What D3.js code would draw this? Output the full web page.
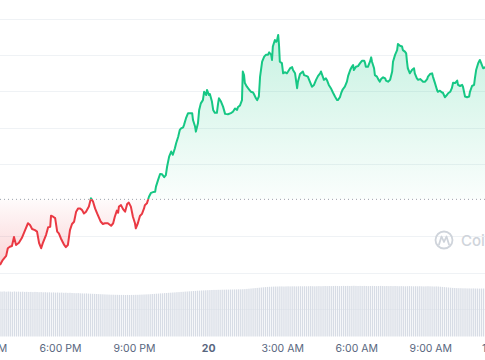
<!DOCTYPE html>
<html>
<head>
<meta charset="utf-8">
<script src="https://cdn.jsdelivr.net/npm/d3@7"></script>
<style>
  html, body { margin: 0; padding: 0; background: #fff; }
  svg { display: block; }
</style>
</head>
<body>
<svg id="chart" width="485" height="360"></svg>
<script>
// ---- data ----
// minutes after 2024-03-19 15:34:15
const times = [
  0,7,15,19,24,29,34,39,46,53,
  61,68,73,78,85,90,95,100,104,112,
  117,122,124,129,134,139,143,148,156,160,
  165,170,175,180,185,190,194,199,204,209,
  216,221,226,231,236,241,245,250,255,262,
  270,275,279,284,287,289,294,299,304,309,
  313,318,323,328,330,335,340,345,350,352,
  357,362,367,372,377,379,384,389,394,399,
  403,406,411,416,418,420,425,428,433,437,
  440,445,447,452,457,462,467,469,474,476,
  481,484,488,493,496,501,503,508,510,515,
  518,522,527,530,532,537,542,547,554,561,
  566,571,576,578,583,588,590,593,595,600,
  605,610,615,617,622,625,629,632,637,642,
  646,651,654,659,661,663,668,671,673,676,
  678,680,685,688,693,697,700,705,710,712,
  717,722,724,729,736,739,744,748,753,758,
  763,768,773,778,780,785,787,792,795,799,
  804,809,814,819,821,826,829,833,838,843,
  846,851,855,858,860,865,870,875,880,885,
  887,889,894,899,902,904,909,911,916,919,
  923,926,931,936,938,943,948,953,955,960,
  965,967,972,977,979,984,987,989,991,996,
  1001,1006,1008,1013,1016,1021,1025,1028,1033,1038,
  1040,1045,1050,1052,1057,1062,1064,1069,1074,1076,
  1081,1086,1089,1094,1098,1101,1106,1111,1113,1118,
  1123,1125,1130,1135,1140,1142,1147,1152,1154,1157,
  1162,1166,1169,1174,1179
];
const prices = [
  96.21,96.35,96.46,96.67,96.71,96.73,96.98,96.76,96.82,96.95,
  97.17,97.36,97.31,97.20,97.17,97.13,96.81,96.67,96.81,97.04,
  97.25,97.26,97.57,97.54,97.50,97.13,97.08,96.94,96.76,96.70,
  96.76,97.17,97.34,97.40,97.68,97.77,97.77,97.73,97.63,97.68,
  97.82,98.05,97.96,97.77,97.63,97.50,97.40,97.34,97.36,97.36,
  97.29,97.36,97.54,97.71,97.65,97.82,97.86,97.75,97.68,97.89,
  97.93,97.82,97.54,97.36,97.22,97.36,97.56,97.62,97.77,97.86,
  97.91,98.09,98.20,98.22,98.23,98.37,98.55,98.72,98.71,98.63,
  98.69,98.92,99.20,99.34,99.29,99.25,99.43,99.57,99.75,99.94,
  99.98,100.01,100.07,100.26,100.40,100.40,100.40,100.21,100.03,99.89,
  100.12,100.49,100.67,100.76,100.99,100.90,101.04,100.90,100.93,100.72,
  100.49,100.41,100.41,100.67,100.81,100.72,100.58,100.38,100.37,100.40,
  100.44,100.53,100.49,100.56,100.61,100.76,101.55,101.45,101.23,101.13,
  101.06,100.99,100.97,100.93,100.81,100.76,100.86,101.41,101.82,101.96,
  102.01,102.01,102.08,102.01,101.87,102.24,102.42,102.37,102.40,102.56,
  102.28,101.82,101.78,101.50,101.53,101.50,101.55,101.64,101.67,101.59,
  101.50,101.09,101.27,101.48,101.55,101.45,101.43,101.41,101.27,101.13,
  101.18,101.32,101.43,101.50,101.55,101.39,101.32,101.36,101.30,101.18,
  101.09,100.97,100.86,100.76,100.76,100.84,100.95,101.06,101.13,101.27,
  101.43,101.59,101.68,101.73,101.59,101.68,101.70,101.78,101.85,101.85,
  101.79,101.68,101.68,101.82,101.94,101.82,101.64,101.45,101.41,101.34,
  101.27,101.34,101.39,101.36,101.30,101.27,101.32,101.55,101.82,102.01,
  102.14,102.31,102.26,102.24,102.14,102.10,102.05,101.82,101.64,101.50,
  101.59,101.64,101.50,101.36,101.32,101.34,101.30,101.27,101.27,101.34,
  101.41,101.48,101.50,101.41,101.23,101.04,100.99,101.02,100.97,100.97,
  100.84,100.90,100.95,100.99,101.09,101.24,101.23,101.30,101.18,101.15,
  101.18,101.13,100.86,100.84,100.86,100.99,101.15,101.18,101.36,101.59,
  101.78,101.87,101.79,101.64,101.67
];
const referencePrice = 98.02;          // dotted baseline (price 24h earlier)
const priceTicks = [95, 96, 97, 99, 100, 101, 102, 103];
// volume, one bar every 5 minutes from the start
const volumes = [
  450,449,451,448,450,449,447,450,448,449,447,448,
  446,447,445,446,444,446,445,443,444,442,443,441,
  442,440,441,439,440,438,439,437,438,436,437,435,
  434,433,434,432,431,430,431,429,428,427,426,425,
  424,423,422,421,420,419,418,418,417,417,416,416,
  416,415,416,415,416,416,417,417,418,419,420,421,
  422,423,425,426,428,429,431,432,434,435,437,438,
  440,441,443,444,446,447,449,450,452,453,455,456,
  458,459,460,461,462,463,464,465,466,466,467,467,
  468,468,469,469,470,470,471,471,472,472,473,474,
  476,478,480,482,484,486,488,490,492,494,496,497,
  498,499,500,500,501,501,500,501,502,501,502,502,
  501,502,503,502,503,502,503,504,503,502,503,504,
  503,504,505,504,505,504,505,506,505,504,505,506,
  505,506,505,506,507,506,505,506,505,506,505,504,
  505,506,505,504,505,506,505,504,505,504,505,504,
  505,504,503,504,503,502,503,504,503,502,503,502,
  503,502,501,502,503,502,501,500,501,500,498,496,
  494,492,490,488,486,485,484,483,483,482,482,481,
  481,480,481,480,480,479,480,480
];
const volumeStepMinutes = 5;
const startTime = new Date(2024, 2, 19, 15, 34, 15);
const spanMinutes = 1178.55;
const tickTimes = [
  new Date(2024, 2, 19, 15), new Date(2024, 2, 19, 18), new Date(2024, 2, 19, 21),
  new Date(2024, 2, 20, 0), new Date(2024, 2, 20, 3), new Date(2024, 2, 20, 6),
  new Date(2024, 2, 20, 9), new Date(2024, 2, 20, 12)
];

// ---- drawing ----
const W = 485, H = 360;
const svg = d3.select("#chart");
const toDate = m => new Date(startTime.getTime() + m * 60000);

const x = d3.scaleTime()
  .domain([startTime, toDate(spanMinutes)])
  .range([0, W]);
const y = d3.scaleLinear().domain([96, 103]).range([272.5, 19]);
const yv = d3.scaleLinear().domain([0, 500]).range([336.5, 286.5]);

const data = times.map((t, i) => ({ date: toDate(t), price: prices[i] }));
const baseY = y(referencePrice);

const defs = svg.append("defs");
const gGreen = defs.append("linearGradient").attr("id", "gGreen")
  .attr("gradientUnits", "userSpaceOnUse").attr("x1", 0).attr("x2", 0)
  .attr("y1", y(102.6)).attr("y2", baseY);
gGreen.append("stop").attr("offset", 0).attr("stop-color", "#16c784").attr("stop-opacity", 0.24);
gGreen.append("stop").attr("offset", 1).attr("stop-color", "#16c784").attr("stop-opacity", 0.02);
const gRed = defs.append("linearGradient").attr("id", "gRed")
  .attr("gradientUnits", "userSpaceOnUse").attr("x1", 0).attr("x2", 0)
  .attr("y1", baseY).attr("y2", y(96.2));
gRed.append("stop").attr("offset", 0).attr("stop-color", "#ea3943").attr("stop-opacity", 0.02);
gRed.append("stop").attr("offset", 1).attr("stop-color", "#ea3943").attr("stop-opacity", 0.22);

defs.append("clipPath").attr("id", "above").append("rect")
  .attr("x", -5).attr("y", 0).attr("width", W + 10).attr("height", baseY);
defs.append("clipPath").attr("id", "below").append("rect")
  .attr("x", -5).attr("y", baseY).attr("width", W + 10).attr("height", H - baseY);

// grid lines
svg.append("g").selectAll("line")
  .data(priceTicks)
  .join("line")
  .attr("x1", 0).attr("x2", W)
  .attr("y1", d => Math.round(y(d)) + 0.5).attr("y2", d => Math.round(y(d)) + 0.5)
  .attr("stroke", "#eff2f5").attr("stroke-width", 1);

// volume bars
svg.append("g").selectAll("rect")
  .data(volumes)
  .join("rect")
  .attr("x", (d, i) => x(toDate(i * volumeStepMinutes)) - 0.65)
  .attr("width", 1.3)
  .attr("y", d => yv(d))
  .attr("height", d => yv(0) - yv(d))
  .attr("fill", "#d7dce5");

// areas
const area = d3.area().x(d => x(d.date)).y0(baseY).y1(d => y(d.price));
svg.append("path").datum(data).attr("d", area)
  .attr("fill", "url(#gGreen)").attr("clip-path", "url(#above)");
svg.append("path").datum(data).attr("d", area)
  .attr("fill", "url(#gRed)").attr("clip-path", "url(#below)");

// baseline
svg.append("line").attr("x1", 0).attr("x2", W)
  .attr("y1", baseY).attr("y2", baseY)
  .attr("stroke", "#9aa1ac").attr("stroke-width", 1)
  .attr("stroke-dasharray", "1,3");

// lines
const line = d3.line().x(d => x(d.date)).y(d => y(d.price));
svg.append("path").datum(data).attr("d", line)
  .attr("fill", "none").attr("stroke", "#16c784").attr("stroke-width", 2)
  .attr("stroke-linejoin", "round").attr("clip-path", "url(#above)");
svg.append("path").datum(data).attr("d", line)
  .attr("fill", "none").attr("stroke", "#ea3943").attr("stroke-width", 2)
  .attr("stroke-linejoin", "round").attr("clip-path", "url(#below)");

// watermark
const wm = svg.append("g").attr("fill", "none").attr("stroke", "#cfd4db").attr("stroke-width", 1.8);
wm.append("circle").attr("cx", 444).attr("cy", 240).attr("r", 8.5);
wm.append("path").attr("d", "M439,244.5 L441.5,236.5 L444,242 L446.5,236.5 L449,244.5")
  .attr("stroke-linejoin", "round").attr("stroke-linecap", "round");
svg.append("text").attr("x", 461).attr("y", 246)
  .attr("font-family", "Inter, 'Open Sans', sans-serif").attr("font-size", 15)
  .attr("font-weight", 500).attr("fill", "#cfd4db").text("CoinGecko");

// x axis
const fmt = d => d.getHours() === 0 ? d3.timeFormat("%-d")(d) : d3.timeFormat("%-I:%M %p")(d);
const ax = svg.append("g").attr("transform", "translate(0,342)")
  .call(d3.axisBottom(x).tickValues(tickTimes).tickSize(0).tickFormat(fmt));
ax.select(".domain").remove();
ax.selectAll("text")
  .attr("font-family", "Inter, 'Open Sans', sans-serif")
  .attr("font-size", 10.5)
  .attr("fill", "#58667e")
  .attr("font-weight", d => d.getHours() === 0 ? 700 : 400);
</script>
</body>
</html>
